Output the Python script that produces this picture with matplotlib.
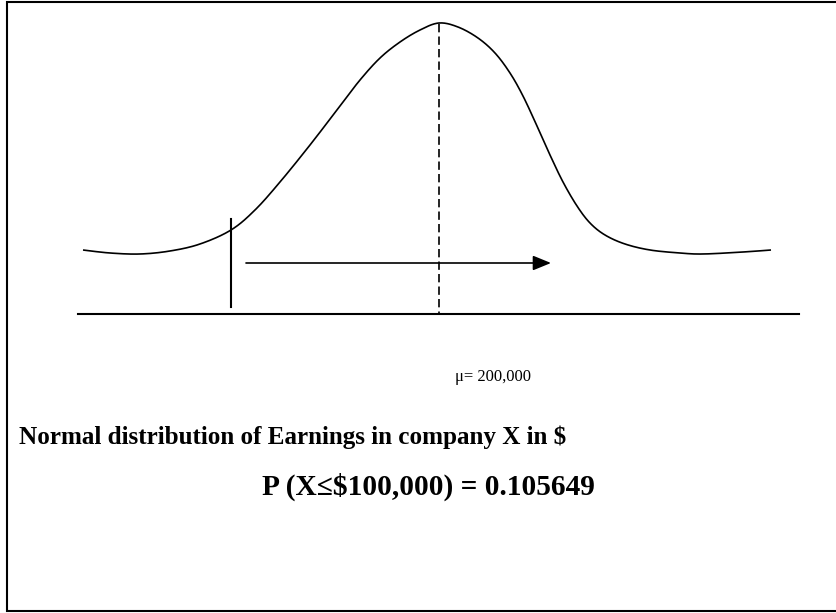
import matplotlib
matplotlib.use("Agg")
import matplotlib.pyplot as plt
import numpy as np

# curve (pixel coords, y down)
curve_x = [83, 110, 140, 170, 200, 231, 255, 280, 310, 340, 360, 380, 400,
           420, 439, 458, 478, 495, 510, 523, 537, 550, 563, 577, 590, 605,
           625, 650, 680, 703, 743, 771]
curve_y = [250, 253, 254, 251, 244, 230, 210, 182, 145, 106, 80, 58, 42,
           30, 23, 27, 38, 53, 73, 96, 126, 155, 182, 206, 223, 235,
           244, 250, 253, 254, 252, 250]

mean_x = 439
cut_x = 231
mu_label = "\u03bc= 200,000"
title = "Normal distribution of Earnings in company X in $"
prob_label = "P (X\u2264$100,000) = 0.105649"


def smooth(xs, ys, n=20):
    # catmull-rom through the read points
    p = np.column_stack([xs, ys]).astype(float)
    p = np.vstack([p[0], p, p[-1]])
    out = []
    t = np.linspace(0, 1, n, endpoint=False)[:, None]
    for i in range(1, len(p) - 2):
        p0, p1, p2, p3 = p[i - 1], p[i], p[i + 1], p[i + 2]
        seg = 0.5 * ((2 * p1) + (-p0 + p2) * t
                     + (2 * p0 - 5 * p1 + 4 * p2 - p3) * t ** 2
                     + (-p0 + 3 * p1 - 3 * p2 + p3) * t ** 3)
        out.append(seg)
    out.append(p[-2][None, :])
    out = np.vstack(out)
    return out[:, 0], out[:, 1]


fig = plt.figure(figsize=(8.36, 6.13), dpi=100)
ax = fig.add_axes([0, 0, 1, 1])
ax.set_xlim(0, 836)
ax.set_ylim(613, 0)
ax.axis("off")

# frame (right edge falls outside the picture)
ax.plot([840, 7, 7, 840], [2, 2, 611, 611], color="black", lw=1.5,
        solid_joinstyle="miter")

sx, sy = smooth(curve_x, curve_y)
ax.plot(sx, sy, color="black", lw=1.2, solid_capstyle="butt")

# baseline
ax.plot([78, 799], [314, 314], color="black", lw=1.5)
# cut-off line
ax.plot([cut_x, cut_x], [219, 307], color="black", lw=1.5)
# mean line
ax.plot([mean_x, mean_x], [24, 314], color="black", lw=1.2,
        linestyle=(0, (5, 2.5)))
# arrow
ax.annotate("", xy=(551, 263), xytext=(246, 263),
            arrowprops=dict(arrowstyle="-|>,head_length=1.1,head_width=0.45",
                            color="black", lw=1.2, shrinkA=0, shrinkB=0))

ax.text(455, 377, mu_label, fontsize=12, family="Liberation Serif",
        ha="left", va="center")
ax.text(19, 437, title, fontsize=18.1, fontweight="bold",
        family="Liberation Serif", ha="left", va="center")
ax.text(262, 487, prob_label, fontsize=21.2, fontweight="bold",
        family="Liberation Serif", ha="left", va="center")

fig.savefig("out.png", dpi=100)
